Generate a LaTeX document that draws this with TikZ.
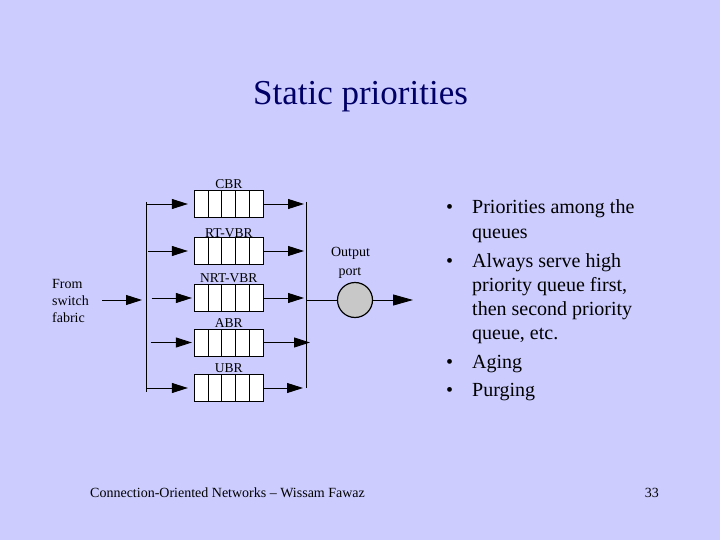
\documentclass[tikz,border=0pt]{standalone}
\usepackage{fontspec}
\setmainfont{Liberation Serif}
\usetikzlibrary{arrows.meta}
\definecolor{bg}{RGB}{204,204,255}
\definecolor{titlec}{RGB}{0,0,102}
\definecolor{portgray}{RGB}{200,200,200}
\begin{document}
\begin{tikzpicture}[x=1pt,y=-1pt,
  qbox/.style={draw, line width=0.9pt, fill=white, minimum width=69pt, minimum height=27pt, inner sep=0pt,
    path picture={\foreach \i in {1,2,3,4}{\draw[line width=0.9pt] ([xshift=\i*13.8pt]path picture bounding box.south west) -- ([xshift=\i*13.8pt]path picture bounding box.north west);}}},
  qlabel/.style={anchor=base, inner sep=0pt, font=\fontsize{13.5}{16}\selectfont},
  dlabel/.style={anchor=base west, inner sep=0pt, font=\fontsize{14}{17}\selectfont},
  clabel/.style={anchor=base, inner sep=0pt, font=\fontsize{14}{17}\selectfont},
  arr/.style={line width=0.9pt, -{Triangle[length=16pt,width=10pt]}},
  bus/.style={line width=0.9pt},
  btext/.style={anchor=base west, inner sep=0pt, font=\fontsize{20}{24}\selectfont},
  foot/.style={inner sep=0pt, font=\fontsize{14}{17}\selectfont}
]
\useasboundingbox[fill=bg] (0,0) rectangle (720,540);

% title
\node[anchor=base, inner sep=0pt, text=titlec, font=\fontsize{35}{42}\selectfont] (title) at (360.5,105) {Static priorities};

% queues
\node[qbox] (q1) at (228.8,204) {};
\node[qbox] (q2) at (228.8,251) {};
\node[qbox] (q3) at (228.8,298) {};
\node[qbox] (q4) at (228.8,342.5) {};
\node[qbox] (q5) at (228.8,388) {};

\node[qlabel] (l1) at ([yshift=1.5pt]q1.north) {CBR};
\node[qlabel] (l2) at ([yshift=-0.5pt]q2.north) {RT-VBR};
\node[qlabel] (l3) at ([yshift=1.5pt]q3.north) {NRT-VBR};
\node[qlabel] (l4) at ([yshift=1.5pt]q4.north) {ABR};
\node[qlabel] (l5) at ([yshift=1.5pt]q5.north) {UBR};

% input side
\node[dlabel] (from1) at (52,288) {From};
\node[dlabel] (from2) at (52,305) {switch};
\node[dlabel] (from3) at (52,322.5) {fabric};
\coordinate (inS) at (102,300);
\coordinate (inE) at (142,300);
\draw[arr] (inS) -- (inE);

\coordinate (lbT) at (146.7,202);
\coordinate (lbB) at (146.7,392);
\draw[bus] (lbT) -- (lbB);

\draw[arr, shorten >=6pt] (lbT |- q1.west) -- (q1.west);
\draw[arr, shorten >=6pt] ([xshift=1.5pt]lbT |- q2.west) -- (q2.west);
\draw[arr, shorten >=2pt] ([xshift=5pt]lbT |- q3.west) -- (q3.west);
\draw[arr, shorten >=2pt] ([xshift=4pt]lbT |- q4.west) -- (q4.west);
\draw[arr, shorten >=6pt] (lbT |- q5.west) -- (q5.west);

% output side
\coordinate (rbT) at (306,202);
\coordinate (rbB) at (306,388);
\draw[bus] (rbT) -- (rbB);

\draw[arr, shorten >=2pt] (q1.east) -- (rbT |- q1.east);
\draw[arr, shorten >=2pt] (q2.east) -- (rbT |- q2.east);
\draw[arr, shorten >=2pt] (q3.east) -- (rbT |- q3.east);
\draw[arr, shorten >=-4pt] (q4.east) -- (rbT |- q4.east);
\draw[arr, shorten >=3pt] (q5.east) -- (rbT |- q5.east);

\node[circle, draw, line width=1.2pt, fill=portgray, minimum size=35pt, inner sep=0pt] (port) at (355,300) {};
\node[clabel] (out1) at (350.5,256) {Output};
\node[clabel] (out2) at (350,275) {port};
\draw[bus] (rbT |- port.west) -- (port.west);
\coordinate (outE) at (413,300);
\draw[arr, -{Triangle[length=20pt,width=11pt]}] (port.east) -- (outE);

% bullets
\node[btext] (b1) at (446,214) {•};
\node[btext] (t1) at (472,214) {Priorities among the};
\node[btext] (t1b) at (472,238) {queues};
\node[btext] (b2) at (446,267) {•};
\node[btext] (t2) at (472,267) {Always serve high};
\node[btext] (t2b) at (472,291) {priority queue first,};
\node[btext] (t2c) at (472,315) {then second priority};
\node[btext] (t2d) at (472,339) {queue, etc.};
\node[btext] (b3) at (446,368) {•};
\node[btext] (t3) at (472,368) {Aging};
\node[btext] (b4) at (446,396) {•};
\node[btext] (t4) at (472,396) {Purging};

% footer
\node[foot, anchor=base west] (footer) at (90,497) {Connection-Oriented Networks – Wissam Fawaz};
\node[foot, anchor=base east] (page) at (659,497) {33};
\end{tikzpicture}
\end{document}
